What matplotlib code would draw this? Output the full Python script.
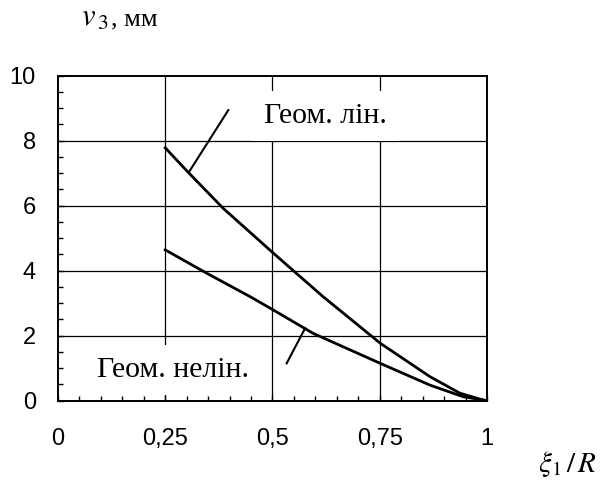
import matplotlib
matplotlib.use("Agg")
import matplotlib.pyplot as plt
from matplotlib.ticker import MultipleLocator, FixedLocator

plt.rcParams["mathtext.fontset"] = "stix"

# ── data ─────────────────────────────────────────────────────────────────────
x_lin = [0.25, 0.304, 0.385, 0.502, 0.618, 0.751, 0.867, 0.937, 0.991, 1.0]
y_lin = [7.78, 7.02, 5.92, 4.54, 3.20, 1.77, 0.74, 0.23, 0.02, 0.0]

x_nelin = [0.25, 0.347, 0.448, 0.502, 0.595, 0.751, 0.867, 0.945, 1.0]
y_nelin = [4.64, 3.92, 3.20, 2.79, 2.07, 1.15, 0.48, 0.12, 0.0]

x_ticks = [0, 0.25, 0.5, 0.75, 1]
x_ticklabels = ["0", "0,25", "0,5", "0,75", "1"]
y_ticks = [0, 2, 4, 6, 8, 10]

label_lin = "Геом. лін."
label_nelin = "Геом. нелін."

fig = plt.figure(figsize=(6.03, 4.83), dpi=100)
ax = fig.add_axes([0.0962, 0.1704, 0.7114, 0.6729])
ax.set_xlim(0, 1)
ax.set_ylim(0, 10)

# grid drawn by hand so the white label boxes can cover it but not the ticks
for xv in x_ticks[1:-1]:
    ax.axvline(xv, color="black", lw=0.9, zorder=1)
for yv in y_ticks[1:-1]:
    ax.axhline(yv, color="black", lw=0.9, zorder=1)

ax.plot(x_lin, y_lin, color="black", lw=2.0, zorder=3)
ax.plot(x_nelin, y_nelin, color="black", lw=2.0, zorder=3)

# leader lines
ax.plot([0.397, 0.306], [8.94, 7.05], color="black", lw=1.5, zorder=3)
ax.plot([0.533, 0.576], [1.15, 2.23], color="black", lw=1.5, zorder=3)

box = dict(boxstyle="square,pad=0.4", facecolor="white", edgecolor="none")
ax.text(0.6235, 8.55, label_lin, ha="center", va="baseline",
        family="Liberation Serif", fontsize=21.5, bbox=box, zorder=2)
ax.text(0.267, 0.73, label_nelin, ha="center", va="baseline",
        family="Liberation Serif", fontsize=21.5, bbox=box, zorder=2)

ax.xaxis.set_major_locator(FixedLocator(x_ticks))
ax.set_xticklabels(x_ticklabels)
ax.yaxis.set_major_locator(FixedLocator(y_ticks))
ax.xaxis.set_minor_locator(MultipleLocator(0.05))
ax.yaxis.set_minor_locator(MultipleLocator(0.5))
ax.tick_params(which="both", direction="in", top=False, right=False,
               width=1.0, color="black")
ax.tick_params(which="major", length=4)
ax.tick_params(which="minor", length=3.5)
ax.tick_params(axis="x", which="major", pad=20, labelsize=17)
ax.tick_params(axis="y", which="major", pad=16, labelsize=17)
for lab in ax.get_xticklabels() + ax.get_yticklabels():
    lab.set_family("Liberation Sans")
for sp in ax.spines.values():
    sp.set_linewidth(1.4)

# axis captions
fig.text(0.134, 0.946, r"$v_{\,3}$", fontsize=22, ha="left", va="baseline")
fig.text(0.184, 0.948, ", мм", fontsize=19, family="Liberation Serif",
         ha="left", va="baseline")
fig.text(0.893, 0.0228, r"$\xi_1\,/\,R$", fontsize=21, ha="left", va="baseline")

fig.savefig("out.png", dpi=100)
